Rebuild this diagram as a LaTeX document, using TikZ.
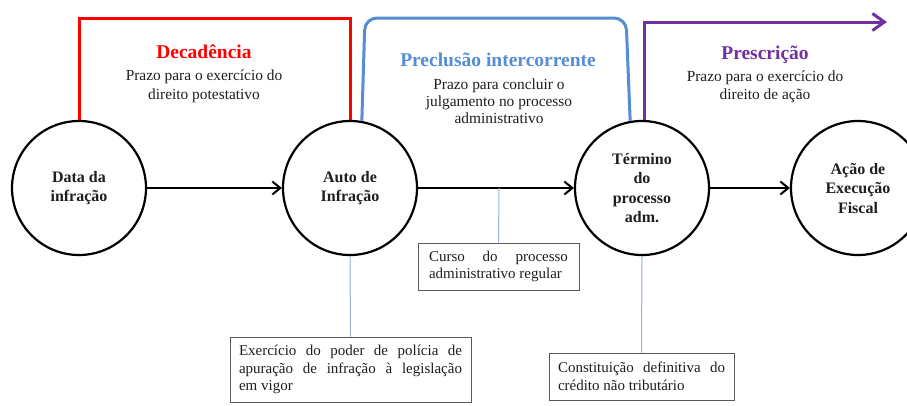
\documentclass[tikz,border=0pt]{standalone}
\usepackage{fontspec}
\setmainfont{Liberation Serif}
\newfontfamily\tnr{Liberation Serif}
\usetikzlibrary{arrows.meta}
\definecolor{decred}{RGB}{255,0,0}
\definecolor{precblue}{RGB}{85,142,213}
\definecolor{prespurple}{RGB}{112,48,160}
\definecolor{linkblue}{RGB}{149,179,215}
\definecolor{boxgray}{RGB}{90,90,90}
\definecolor{txt}{RGB}{30,30,30}
\begin{document}
\begin{tikzpicture}[x=1pt,y=-1pt,
 stage/.style={circle,draw=black,line width=2.2pt,minimum size=134pt,inner sep=0pt,align=center,font=\tnr\fontsize{16}{19.5}\selectfont\bfseries,text=txt},
 flow/.style={line width=2pt,-{Straight Barb[length=8pt,width=13pt]}},
 ttl/.style={font=\tnr\fontsize{19.5}{22}\selectfont\bfseries,inner sep=0pt},
 desc/.style={align=center,inner sep=0pt,text=txt},
 note/.style={draw=boxgray,line width=0.8pt,align=justify,font=\tnr\fontsize{15}{17.5}\selectfont,text=txt,inner xsep=9pt,inner ysep=3pt},
 link/.style={draw=linkblue,line width=1pt},
 bracket/.style={line width=3pt}
]
\useasboundingbox (0,0) rectangle (907,405);
\fill[white] (0,0) rectangle (907,405);

% stages
\node[stage] (data) at (79,188) {Data da\\infração};
\node[stage] (auto) at (350,188) {Auto de\\Infração};
\node[stage] (term) at (642,188) {Término\\do\\processo\\adm.};
\node[stage] (acao) at (858,188) {Ação de\\Execução\\Fiscal};

% flows
\draw[flow] (data) -- (auto);
\draw[flow] (auto) -- (term);
\draw[flow] (term) -- (acao);

% brackets
\draw[bracket,decred] (data.north) -- ++(0,-101) -| (auto.north);
\draw[bracket,precblue,rounded corners=12pt] (auto.80) -- (365,18) -- (626,18) -- (term.100);
\coordinate (presend) at (887,22);
\draw[bracket,prespurple,-{Straight Barb[length=12pt,width=17pt]}] (term.88) |- (presend);

% period labels
\node[ttl,text=decred] (dect) at (204,52) {Decadência};
\node[desc,font=\tnr\fontsize{15.4}{19}\selectfont] (decd) at (204,86) {Prazo para o exercício do\\direito potestativo};
\node[ttl,text=precblue] (prect) at (498,60) {Preclusão intercorrente};
\node[desc,font=\tnr\fontsize{15.4}{17}\selectfont] (precd) at (499,101) {Prazo para concluir o\\julgamento no processo\\administrativo};
\node[ttl,text=prespurple] (prest) at (765,55) {Prescrição};
\node[desc,font=\tnr\fontsize{15.4}{18}\selectfont] (presd) at (765,87) {Prazo para o exercício do\\direito de ação};

% notes
\node[note,text width=139pt,inner xsep=11pt,minimum height=47pt] (curso) at (498.5,266.5) {Curso do processo\linebreak administrativo regular};
\node[note,text width=223pt,minimum height=65pt] (exerc) at (350.5,369.5) {Exercício do poder de polícia de\linebreak apuração de infração à legislação\linebreak em vigor};
\node[note,text width=167pt,minimum height=47pt] (const) at (641.5,376.5) {Constituição definitiva do\linebreak crédito não tributário};

% links
\coordinate (cursoj) at (499,188);
\draw[link] (cursoj) -- (curso.north);
\draw[link] (auto.south) -- (exerc.north);
\draw[link] (term.south) -- (const.north);
\end{tikzpicture}
\end{document}
